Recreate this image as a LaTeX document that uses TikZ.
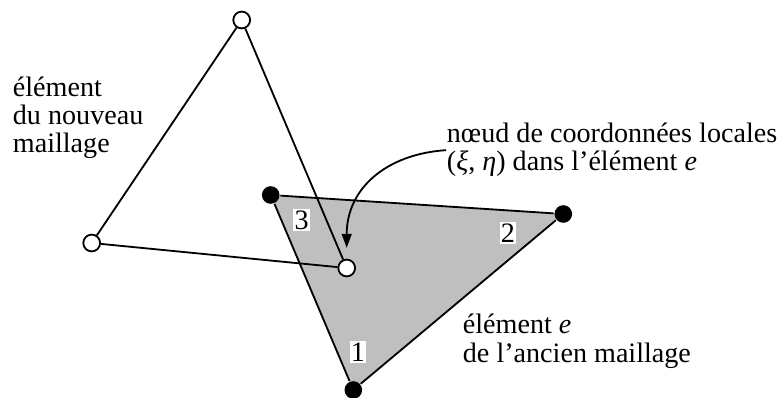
\documentclass[tikz,border=0pt]{standalone}
\usepackage{fontspec}
\setmainfont{Liberation Serif}
\usetikzlibrary{arrows.meta}

\begin{document}
\begin{tikzpicture}[x=0.025cm,y=-0.025cm,line width=1.3pt,
  font=\fontsize{20}{20}\selectfont,
  newpt/.style={circle,draw,fill=white,inner sep=0pt,minimum size=0.42cm},
  oldpt/.style={circle,fill=black,inner sep=0pt,minimum size=0.44cm},
  numlbl/.style={fill=white,inner sep=1pt},
  txt/.style={align=left,anchor=base west,inner sep=0pt}]
\useasboundingbox (0,0) rectangle (780,398);
% ancien element (grise)
\coordinate (p1) at (353.3,390);
\coordinate (p2) at (563.3,214);
\coordinate (p3) at (270.7,195);
\fill[black!25] (p1) -- (p2) -- (p3) -- cycle;
\node[oldpt] (o1) at (p1) {};
\node[oldpt] (o2) at (p2) {};
\node[oldpt] (o3) at (p3) {};
\draw (o1) -- (o2) -- (o3) -- (o1);
\node[numlbl] (l1) at (358,352) {1};
\node[numlbl] (l2) at (508,233) {2};
\node[numlbl] (l3) at (301.7,220) {3};
% nouvel element
\node[newpt] (a) at (241.7,20) {};
\node[newpt] (b) at (91.7,243) {};
\node[newpt] (c) at (346.7,268) {};
\draw (a) -- (b) -- (c) -- (a);
% textes (ancre sur la derniere ligne)
\node[txt] (tnew) at (12,153) {élément\\du nouveau\\maillage};
\node[txt] (tnode) at (446,171) {nœud de coordonnées locales\\(\textit{ξ}, \textit{η}) dans l’élément \textit{e}};
\node[txt] (told) at (462,362) {élément \textit{e}\\de l’ancien maillage};
\draw[-{Triangle[length=10pt,width=7pt]},shorten >=0.27cm] (tnode.west) .. controls +(-60,4) and +(0,-70) .. (c.north);
\end{tikzpicture}
\end{document}
